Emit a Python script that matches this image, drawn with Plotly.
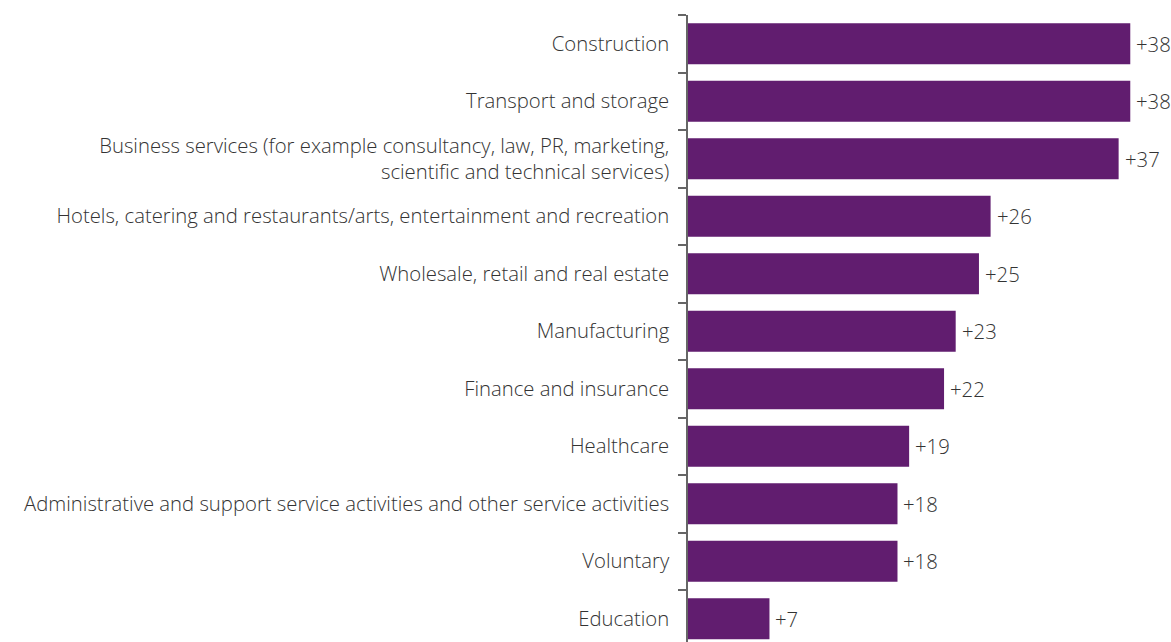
import plotly.graph_objects as go

# Net balance by sector
sectors = [
    "Construction",
    "Transport and storage",
    "Business services (for example consultancy, law, PR, marketing,<br>scientific and technical services)",
    "Hotels, catering and restaurants/arts, entertainment and recreation",
    "Wholesale, retail and real estate",
    "Manufacturing",
    "Finance and insurance",
    "Healthcare",
    "Administrative and support service activities and other service activities",
    "Voluntary",
    "Education",
]
net_balance = [38, 38, 37, 26, 25, 23, 22, 19, 18, 18, 7]

BAR_COLOR = "#611d6f"
TEXT_COLOR = "#333333"
FONT = "Open Sans"
FONT_SIZE = 20.3
FONT_WEIGHT = 300

fig = go.Figure(
    go.Bar(
        x=net_balance,
        y=sectors,
        orientation="h",
        marker=dict(color=BAR_COLOR, line=dict(width=0)),
        hoverinfo="skip",
    )
)

# value labels just beyond the bar ends
for s, v in zip(sectors, net_balance):
    fig.add_annotation(
        x=v, y=s, xref="x", yref="y",
        text=f"+{v}", showarrow=False,
        xanchor="left", yanchor="middle", xshift=4,
        font=dict(family=FONT, size=FONT_SIZE, color=TEXT_COLOR, weight=FONT_WEIGHT),
    )

fig.update_layout(
    width=1171, height=642,
    margin=dict(l=688, r=0, t=15, b=0),
    paper_bgcolor="white", plot_bgcolor="white",
    bargap=0.29,
    showlegend=False,
    font=dict(family=FONT, size=FONT_SIZE, color=TEXT_COLOR, weight=FONT_WEIGHT),
)
fig.update_xaxes(range=[0, 41.5], visible=False, fixedrange=True)
fig.update_yaxes(
    type="category",
    range=[10.404, -0.5],
    showline=True, linecolor="#666666", linewidth=1.5,
    ticks="outside", tickson="boundaries", ticklen=8, tickcolor="#666666", tickwidth=1.5,
    ticklabelstandoff=13,
    showgrid=False, zeroline=False,
    tickfont=dict(family=FONT, size=FONT_SIZE, color=TEXT_COLOR, weight=FONT_WEIGHT),
    fixedrange=True,
)

fig.write_html("out.html")
